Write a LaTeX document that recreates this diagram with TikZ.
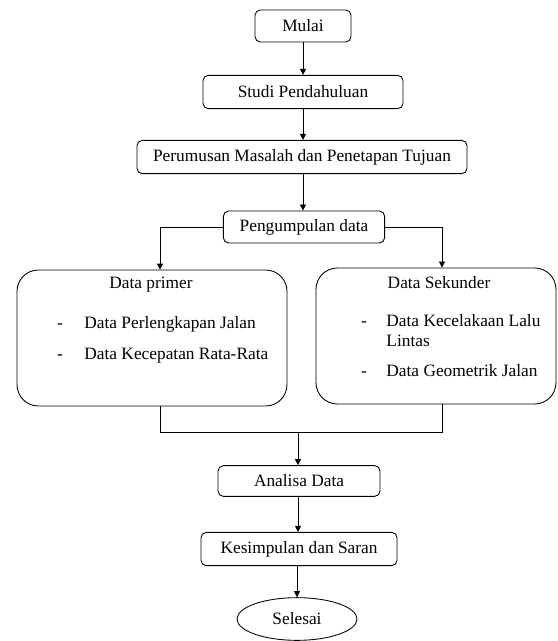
\documentclass[tikz,border=0pt]{standalone}
\usepackage{fontspec}
\setmainfont{Liberation Serif}
\usetikzlibrary{arrows.meta,shapes.geometric}

\tikzset{
  box/.style={draw, rounded corners=4pt, line width=0.65pt, minimum height=24pt,
    inner sep=0pt, font=\fontsize{13}{15}\selectfont},
  bigbox/.style={draw, rounded corners=16pt, line width=0.65pt, inner sep=0pt},
  txt/.style={inner sep=0pt, anchor=base west, font=\fontsize{13}{15}\selectfont},
  >={Triangle[length=4.5pt,width=4.5pt]}
}

\begin{document}
\begin{tikzpicture}[x=0.75pt,y=-0.75pt, line width=0.65pt]
  \useasboundingbox (0,0) rectangle (557,641);

  % Define the nodes
  \node[box, minimum width=72pt] (mulai) at (303,26) {Mulai};
  \node[box, minimum width=150pt, minimum height=25pt] (studi) at (303,92) {Studi Pendahuluan};
  \node[box, minimum width=247.5pt, minimum height=25pt] (rumus) at (302,157) {Perumusan Masalah dan Penetapan Tujuan};
  \node[box, minimum width=121pt] (kumpul) at (304,227) {Pengumpulan data};
  \node[bigbox, minimum width=202.5pt, minimum height=102pt] (primer) at (152,338) {};
  \node[bigbox, minimum width=180pt, minimum height=102pt] (sekunder) at (436,336) {};
  \node[box, minimum width=121.5pt, minimum height=23pt] (analisa) at (299,481) {Analisa Data};
  \node[box, minimum width=147pt, minimum height=25pt] (simpul) at (299,549) {Kesimpulan dan Saran};
  \node[draw, ellipse, minimum width=90pt, minimum height=32pt, inner sep=0pt,
    font=\fontsize{13}{15}\selectfont] (selesai) at (297,619) {Selesai};

  % Texts inside the data boxes
  \node[txt, anchor=base] (judulp) at (151,288) {Data primer};
  \node[txt, anchor=base] (dashp1) at (60,328) {-};
  \node[txt] (itemp1) at (84,328) {Data Perlengkapan Jalan};
  \node[txt, anchor=base] (dashp2) at (60,359) {-};
  \node[txt] (itemp2) at (84,359) {Data Kecepatan Rata-Rata};
  \node[txt, anchor=base] (judulk) at (439,288) {Data Sekunder};
  \node[txt, anchor=base] (dashk1) at (364,326) {-};
  \node[txt] (itemk1) at (386,326) {Data Kecelakaan Lalu};
  \node[txt] (itemk1b) at (386,346) {Lintas};
  \node[txt, anchor=base] (dashk2) at (364,376) {-};
  \node[txt] (itemk2) at (386,376) {Data Geometrik Jalan};

  % Corner points of the connectors
  \coordinate (kiri) at (160,227);
  \coordinate (kanan) at (442,227);
  \coordinate (gabung) at (298,432);

  % Draw arrows between the steps
  \draw[->] (mulai) -- (mulai |- studi.north);
  \draw[->] (studi) -- (studi |- rumus.north);
  \draw[->] (studi |- rumus.south) -- (studi |- kumpul.north);
  \draw[->] (kumpul.west) -- (kiri) -- (kiri |- primer.north);
  \draw[->] (kumpul.east) -- (kanan) -- (kanan |- sekunder.north);
  \draw (kiri |- primer.south) -- (kiri |- gabung) -- (kanan |- gabung) -- (kanan |- sekunder.south);
  \draw[->] (gabung) -- (gabung |- analisa.north);
  \draw[->] (gabung |- analisa.south) -- (gabung |- simpul.north);
  \draw[->] (selesai |- simpul.south) -- (selesai);
\end{tikzpicture}
\end{document}
